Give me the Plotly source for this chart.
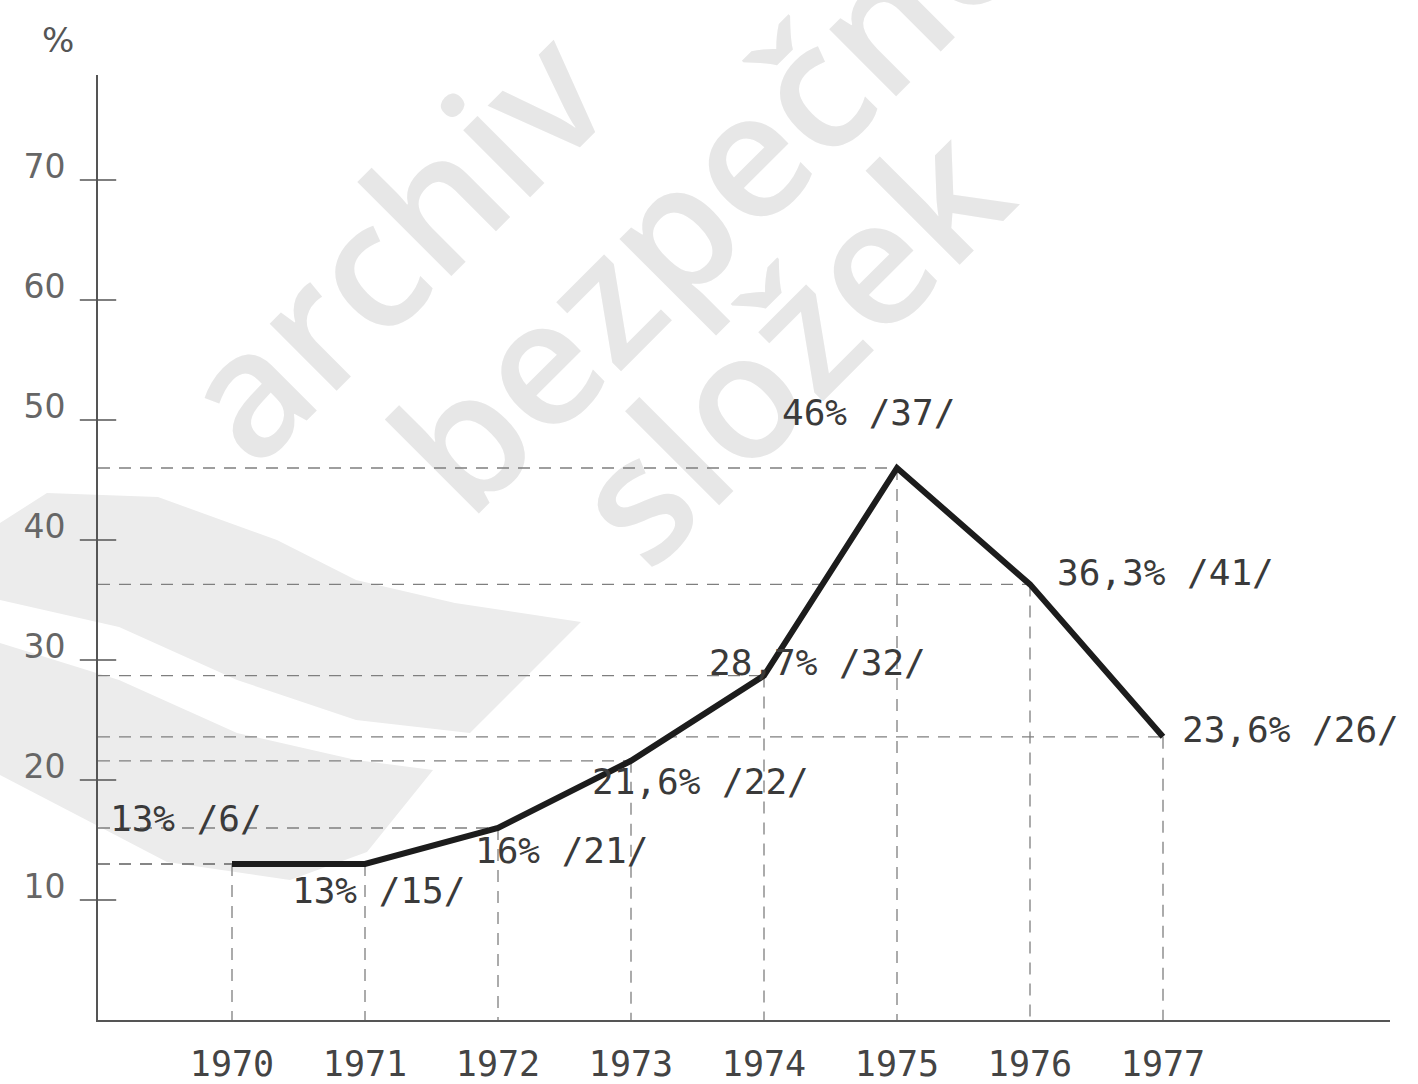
import plotly.graph_objects as go

# ---- data ----
years = [1970, 1971, 1972, 1973, 1974, 1975, 1976, 1977]
values = [13, 13, 16, 21.6, 28.7, 46, 36.3, 23.6]
labels = ["13% /6/", "13% /15/", "16% /21/", "21,6% /22/", "28,7% /32/",
          "46% /37/", "36,3% /41/", "23,6% /26/"]
year_ticks = ["1970", "1971", "1972", "1973", "1974", "1975", "1976", "1977"]
y_ticks = [10, 20, 30, 40, 50, 60, 70]

# ---- layout geometry (pixels) ----
W, H = 1418, 1084
L, R, T, B = 98, 28, 75, 64
PW, PH = W - L - R, H - T - B
XR = [1968.9925, 1978.7068]
YR = [0, 78.75]

def px(x):
    return (x - L) / PW

def py(y):
    return (H - B - y) / PH

fig = go.Figure()

# dashed guide lines
hx, hy, vx, vy = [], [], [], []
for x, v in zip(years, values):
    hx += [XR[0], x, None]
    hy += [v, v, None]
    vx += [x, x, None]
    vy += [v, 0, None]
guide = dict(color="#7f7f7f", width=1.3, dash="12px,9px")
fig.add_trace(go.Scatter(x=hx, y=hy, mode="lines", line=guide, hoverinfo="skip"))
fig.add_trace(go.Scatter(x=vx, y=vy, mode="lines", line=guide, hoverinfo="skip"))

# main line
fig.add_trace(go.Scatter(x=years, y=values, mode="lines",
                         line=dict(color="#1c1c1c", width=6)))

# y tick crossing marks
fig.add_trace(go.Scatter(x=[XR[0]] * len(y_ticks), y=y_ticks, mode="markers",
                         marker=dict(symbol="line-ew", size=26,
                                     line=dict(color="#555", width=1.6)),
                         cliponaxis=False, hoverinfo="skip"))

# data labels
offsets = [(-46, 46), (13, -26), (63, -22), (69, -21), (53, 13),
           (-29, 56), (135, 12), (127, 7)]
for x, v, t, (dx, dy) in zip(years, values, labels, offsets):
    fig.add_annotation(x=x, y=v, text=t, showarrow=False, xshift=dx, yshift=dy,
                       font=dict(family="DejaVu Sans Mono", size=36, color="#3a3a3a"))

# % label
fig.add_annotation(xref="paper", yref="paper", x=px(58), y=py(40), text="%",
                   showarrow=False, xanchor="center", yanchor="middle",
                   font=dict(family="DejaVu Sans", size=34, color="#555"))

# watermark swooshes
def path(pts):
    return "M " + " L ".join(f"{px(a):.4f},{py(b):.4f}" for a, b in pts) + " Z"

band1 = [(0, 523), (47, 493), (158, 497), (277, 540), (356, 580), (455, 603),
         (581, 622), (470, 733), (356, 720), (237, 680), (119, 627), (0, 600)]
band2 = [(0, 643), (119, 680), (237, 733), (356, 760), (433, 770), (367, 852),
         (290, 880), (167, 862), (100, 827), (0, 775)]
for b in (band1, band2):
    fig.add_shape(type="path", path=path(b), xref="paper", yref="paper",
                  fillcolor="#ececec", line=dict(width=0), layer="below")

# watermark text
for word, (cx, cy) in [("archiv", (398, 250)), ("bezpečnostních", (896, 17)),
                       ("složek", (795, 350))]:
    fig.add_shape(type="rect", xref="paper", yref="paper",
                  x0=px(cx) - 0.005, x1=px(cx) + 0.005,
                  y0=py(cy) - 0.005, y1=py(cy) + 0.005,
                  line=dict(width=0), fillcolor="rgba(0,0,0,0)", layer="below",
                  label=dict(text=word, textangle=-45, textposition="middle center",
                             font=dict(family="Open Sans", size=175,
                                       color="#e7e7e7", weight=600)))

fig.update_xaxes(range=XR, showgrid=False, zeroline=False, showline=True,
                 linecolor="#555", linewidth=2, tickvals=years, ticktext=year_ticks,
                 ticks="", ticklabelstandoff=12, automargin=False,
                 tickfont=dict(family="DejaVu Sans Mono", size=35, color="#444"))
fig.update_yaxes(range=YR, showgrid=False, zeroline=False, showline=True,
                 linecolor="#555", linewidth=2, tickvals=y_ticks,
                 ticks="", ticklabelstandoff=24, ticklabelshift=-14, automargin=False,
                 tickfont=dict(family="DejaVu Sans", size=33, color="#666"))

fig.update_layout(width=W, height=H, margin=dict(l=L, r=R, t=T, b=B),
                  paper_bgcolor="white", plot_bgcolor="rgba(0,0,0,0)",
                  showlegend=False)

fig.write_html("out.html", config={"displayModeBar": False},
               post_script="document.body.style.margin='0';")
